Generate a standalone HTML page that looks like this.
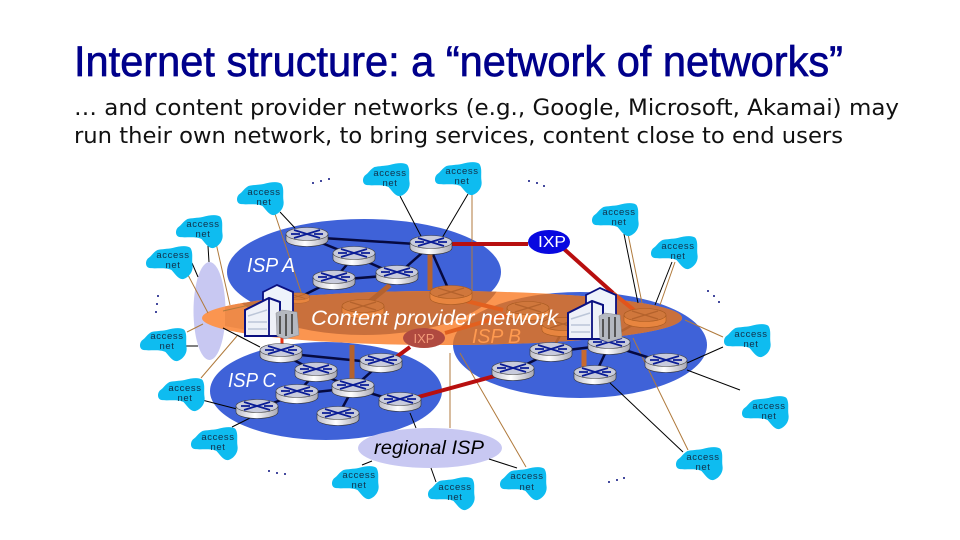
<!DOCTYPE html>
<html><head><meta charset="utf-8"><title>Internet structure</title>
<style>html,body{margin:0;padding:0;background:#fff}svg{display:block}
.a{font:9.5px "Liberation Sans",sans-serif;fill:#12304a;text-anchor:middle;letter-spacing:.6px}</style></head>
<body>
<svg width="960" height="540" viewBox="0 0 960 540" xmlns="http://www.w3.org/2000/svg">
<defs>
<linearGradient id="g" x1="0" x2="1" y1="0" y2="0"><stop offset="0" stop-color="#bdbdc8"/><stop offset=".45" stop-color="#ffffff"/><stop offset="1" stop-color="#a8a8b4"/></linearGradient>
<clipPath id="cp"><ellipse cx="442" cy="318" rx="240" ry="27"/></clipPath>
<g id="r">
<path d="M-21,-3V3A21,6.500 0 0 0 21,3V-3Z" fill="url(#g)" stroke="#333" stroke-width=".6"/>
<ellipse cx="0" cy="-3" rx="21" ry="6.500" fill="#c8cbdc" stroke="#444" stroke-width=".6"/>
<path d="M-13,-7L13,1M13,-7L-13,1M-16,-3H-7M16,-3H7" stroke="#0a1c96" stroke-width="1.800" fill="none"/>
</g>
<g id="o">
<path d="M-21,-3V3A21,6.500 0 0 0 21,3V-3Z" fill="#e8853f" stroke="#a85a20" stroke-width=".6"/>
<ellipse cx="0" cy="-3" rx="21" ry="6.500" fill="#d0773c" stroke="#a85a20" stroke-width=".6"/>
<path d="M-13,-7L13,1M13,-7L-13,1" stroke="#b4622c" stroke-width="1.300" fill="none"/>
</g>
<path id="b" transform="translate(-3.500 0)" d="M-12,-12C-8,-13 -2,-13 3,-14C10,-16 18,-17 21,-14C24,-9 22,-3 23,3C24,9 20,15 14,17C9,18 5,11 2,8C-4,5 -14,7 -20,6C-25,5 -24,-2 -21,-4C-18,-6 -16,-10 -12,-12Z" fill="#0ebcf0"/>
<g id="h">
<path d="M33,12L47,5L63,12V40H33Z" fill="#eef3fb" stroke="#0a1080" stroke-width="1.800"/>
<path d="M15,30L39,18L50,22V56H15Z" fill="#eef1f8" stroke="#0a1080" stroke-width="2"/>
<path d="M39,18V56" stroke="#0a1080" stroke-width="1.800"/>
<path d="M18,36L37,30M18,42H37M18,49H37" stroke="#bcc6d8" stroke-width="1.500"/>
<path d="M46,33L52,30L67,32L69,55L55,59L47,56Z" fill="#b4b8c0" stroke="#8a8a90" stroke-width=".5"/>
<path d="M50,36V54M56,34V56M62,34V54" stroke="#555" stroke-width="2"/>
</g>
</defs>
<text x="74" y="76" font-family="Liberation Sans,sans-serif" font-size="43" fill="#00008b" stroke="#00008b" stroke-width=".7" textLength="769" lengthAdjust="spacingAndGlyphs">Internet structure: a “network of networks”</text>
<text x="74" y="115" font-family="DejaVu Sans,sans-serif" font-size="22" fill="#111" textLength="825" lengthAdjust="spacingAndGlyphs">… and content provider networks  (e.g., Google, Microsoft,  Akamai) may</text>
<text x="74" y="143" font-family="DejaVu Sans,sans-serif" font-size="22" fill="#111" textLength="769" lengthAdjust="spacingAndGlyphs">run their own network, to bring services, content close to end users</text>

<ellipse cx="209.500" cy="311" rx="16" ry="49" fill="#c8c8f2"/>
<ellipse cx="364" cy="272" rx="137" ry="53" fill="#3f62d8"/>
<ellipse cx="580" cy="345" rx="127" ry="53" fill="#3f62d8"/>
<ellipse cx="326" cy="391" rx="116" ry="49" fill="#3f62d8"/>
<ellipse cx="430" cy="448" rx="72" ry="20" fill="#c8c8f2"/>

<ellipse cx="442" cy="318" rx="240" ry="27" fill="#fb9550"/>
<g clip-path="url(#cp)">
<path d="M225,300L280,290V336L225,326Z" fill="#ee8a48"/>
<ellipse cx="364" cy="277" rx="137" ry="58" fill="#c9703c"/>
<ellipse cx="580" cy="345" rx="127" ry="53" fill="#c9703c"/>
</g>

<g stroke="#000" stroke-width="1" fill="none">
<path d="M280,212L295,228M208,246L209,262M192,263L198,277M183,346H198M202,400L237,409M232,427L252,417M237,335L260,347M223,328L260,347M400,196L422,238M468,194L442,238M624,234L638,303M672,262L655,305M723,347L687,363M740,390L687,370M683,452L610,383M489,459L517,468M410,413L416,428M372,461L362,465M431,468L436,482"/>
</g>
<g stroke="#b07a3c" stroke-width="1" fill="none">
<path d="M275,214L302,295M216,243L230,305M188,275L208,313M187,332L203,324M201,378L237,336M223,311L263,302M472,193V292M628,234L642,303M675,262L660,305M685,320L723,337M688,450L633,338M526,467L460,353M450,353V428"/>
</g>

<g stroke="#060a40" stroke-width="2.500" fill="none">
<path d="M307,237L431,245M307,237L354,256M354,256L397,275M334,280L354,256M334,280L298,298M397,275L431,245M397,275L334,280M431,250L451,295"/>
<path d="M281,353L381,363M281,353L316,372M316,372L353,388M316,372L297,394M297,394L353,388M353,388L381,363M353,388L338,416M353,388L400,402M297,394L257,409"/>
<path d="M513,371L551,352M551,352L609,345M609,345L666,363M609,345L595,375"/>
</g>
<g fill="none">
<path d="M430,253V290M390,285L368,303M352,345V380" stroke="#b5622e" stroke-width="5"/>
<path d="M584,350V367" stroke="#c76a30" stroke-width="5"/>
<path d="M609,338L645,318M551,352L563,330" stroke="#b5622e" stroke-width="2.500"/>
<path d="M450,297L503,310M445,333L507,315" stroke="#e2601f" stroke-width="4"/>
<path d="M431,244L528,244M564,249L613,293M410,347L395,358M400,402L513,371" stroke="#b80f0f" stroke-width="4"/>
<path d="M613,293L640,315" stroke="#e2541c" stroke-width="4"/>
<path d="M282,336V350" stroke="#e83010" stroke-width="3"/>
</g>

<use href="#r" x="307" y="237"/><use href="#r" x="354" y="256"/><use href="#r" x="334" y="280"/><use href="#r" x="397" y="275"/><use href="#r" x="431" y="245"/>
<use href="#o" x="298" y="298" transform="translate(298 298) scale(.55) translate(-298 -298)"/>
<use href="#o" x="363" y="309"/><use href="#o" x="451" y="295"/><use href="#o" x="528" y="311"/><use href="#o" x="645" y="318"/><use href="#o" x="563" y="327"/>
<use href="#r" x="281" y="353"/><use href="#r" x="381" y="363"/><use href="#r" x="316" y="372"/><use href="#r" x="353" y="388"/><use href="#r" x="297" y="394"/><use href="#r" x="400" y="402"/><use href="#r" x="257" y="409"/><use href="#r" x="338" y="416"/>
<use href="#r" x="551" y="352"/><use href="#r" x="609" y="345"/><use href="#r" x="666" y="363"/><use href="#r" x="595" y="375"/><use href="#r" x="513" y="371"/>

<use href="#h" x="230" y="280"/><use href="#h" x="553" y="283"/>

<ellipse cx="549" cy="242" rx="21" ry="12" fill="#0808e0"/>
<text x="538" y="247" font-family="Liberation Sans,sans-serif" font-size="16" fill="#fff" textLength="28" lengthAdjust="spacingAndGlyphs">IXP</text>
<ellipse cx="424" cy="338" rx="21" ry="10" fill="#b04a40"/>
<text x="424" y="343" font-family="Liberation Sans,sans-serif" font-size="13" fill="#f29a78" text-anchor="middle">IXP</text>

<text x="247" y="272" font-family="Liberation Sans,sans-serif" font-style="italic" font-size="20" fill="#fff" textLength="48" lengthAdjust="spacingAndGlyphs">ISP A</text>
<text x="228" y="387" font-family="Liberation Sans,sans-serif" font-style="italic" font-size="20" fill="#fff" textLength="48" lengthAdjust="spacingAndGlyphs">ISP C</text>
<text x="472" y="343" font-family="Liberation Sans,sans-serif" font-style="italic" font-size="20" fill="#ff9a50" textLength="49" lengthAdjust="spacingAndGlyphs">ISP B</text>
<text x="311" y="325" font-family="Liberation Sans,sans-serif" font-style="italic" font-size="21" fill="#fff" textLength="247" lengthAdjust="spacingAndGlyphs">Content provider network</text>
<text x="374" y="454" font-family="Liberation Sans,sans-serif" font-style="italic" font-size="19" fill="#000" textLength="110" lengthAdjust="spacingAndGlyphs">regional ISP</text>

<use href="#b" x="264" y="198"/><text class="a" x="264" y="195">access</text><text class="a" x="264" y="205">net</text>
<use href="#b" x="203" y="231"/><text class="a" x="203" y="227">access</text><text class="a" x="203" y="237">net</text>
<use href="#b" x="173" y="262"/><text class="a" x="173" y="258">access</text><text class="a" x="173" y="268">net</text>
<use href="#b" x="167" y="344"/><text class="a" x="167" y="339">access</text><text class="a" x="167" y="349">net</text>
<use href="#b" x="185" y="394"/><text class="a" x="185" y="391">access</text><text class="a" x="185" y="401">net</text>
<use href="#b" x="218" y="443"/><text class="a" x="218" y="440">access</text><text class="a" x="218" y="450">net</text>
<use href="#b" x="359" y="482"/><text class="a" x="359" y="478">access</text><text class="a" x="359" y="488">net</text>
<use href="#b" x="455" y="493"/><text class="a" x="455" y="490">access</text><text class="a" x="455" y="500">net</text>
<use href="#b" x="527" y="483"/><text class="a" x="527" y="479">access</text><text class="a" x="527" y="490">net</text>
<use href="#b" x="703" y="463"/><text class="a" x="703" y="460">access</text><text class="a" x="703" y="470">net</text>
<use href="#b" x="769" y="412"/><text class="a" x="769" y="409">access</text><text class="a" x="769" y="419">net</text>
<use href="#b" x="751" y="340"/><text class="a" x="751" y="337">access</text><text class="a" x="751" y="347">net</text>
<use href="#b" x="678" y="252"/><text class="a" x="678" y="249">access</text><text class="a" x="678" y="259">net</text>
<use href="#b" x="619" y="219"/><text class="a" x="619" y="215">access</text><text class="a" x="619" y="225">net</text>
<use href="#b" x="462" y="178"/><text class="a" x="462" y="174">access</text><text class="a" x="462" y="184">net</text>
<use href="#b" x="390" y="179"/><text class="a" x="390" y="176">access</text><text class="a" x="390" y="186">net</text>

<g fill="#0a1080">
<circle cx="313" cy="183" r="1"/><circle cx="321" cy="181" r="1"/><circle cx="329" cy="179" r="1"/>
<circle cx="529" cy="181" r="1"/><circle cx="537" cy="183" r="1"/><circle cx="544" cy="186" r="1"/>
<circle cx="708" cy="291" r="1"/><circle cx="714" cy="296" r="1"/><circle cx="719" cy="302" r="1"/>
<circle cx="158" cy="296" r="1"/><circle cx="157" cy="304" r="1"/><circle cx="156" cy="312" r="1"/>
<circle cx="269" cy="471" r="1"/><circle cx="277" cy="473" r="1"/><circle cx="285" cy="474" r="1"/>
<circle cx="609" cy="482" r="1"/><circle cx="617" cy="480" r="1"/><circle cx="624" cy="478" r="1"/>
</g>
</svg>
</body></html>
